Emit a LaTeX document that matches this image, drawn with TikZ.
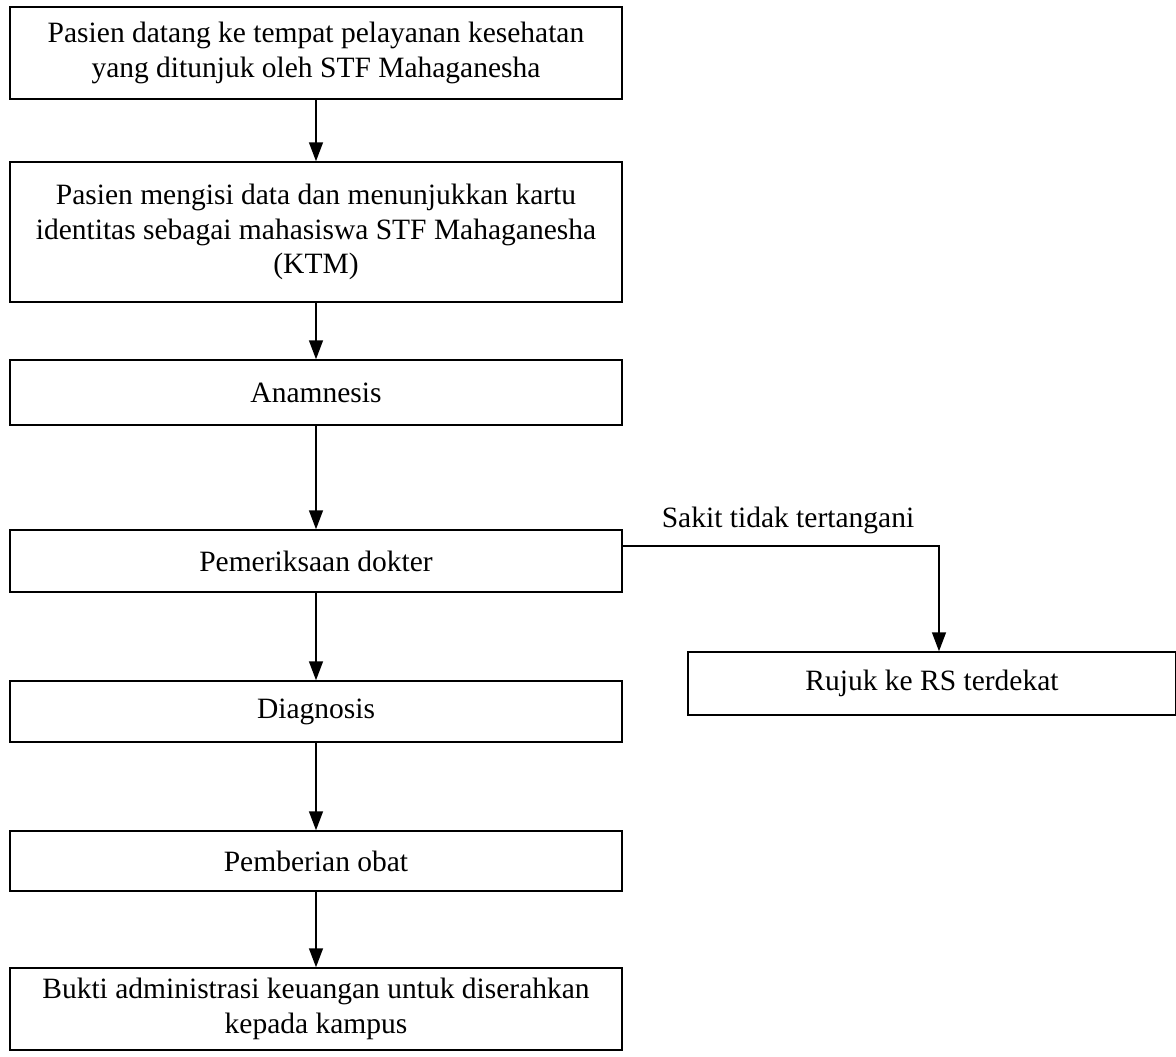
\documentclass[tikz,border=0pt]{standalone}
\usepackage{fontspec}
\setmainfont{Liberation Serif}
\usetikzlibrary{arrows.meta}
\begin{document}
\begin{tikzpicture}[x=1pt,y=-1pt,
  box/.style={draw, line width=1.5pt, inner sep=0pt, align=center,
    minimum width=612pt, font=\fontsize{29.5}{34.5}\selectfont},
  rbox/.style={box, minimum width=488pt},
  lbl/.style={font=\fontsize{29.5}{34.5}\selectfont, inner sep=0pt},
  arr/.style={line width=1.5pt, -{Triangle[width=14pt,length=19pt]}}]
\useasboundingbox (0,0) rectangle (1176,1057);
\node[box, minimum height=92pt] (b1) at (316,53) {Pasien datang ke tempat pelayanan kesehatan\\yang ditunjuk oleh STF Mahaganesha};
\node[box, minimum height=140pt] (b2) at (316,232) {Pasien mengisi data dan menunjukkan kartu\\identitas sebagai mahasiswa STF Mahaganesha\\(KTM)};
\node[box, minimum height=65pt] (b3) at (316,392.5) {Anamnesis};
\node[box, minimum height=62pt] (b4) at (316,561) {Pemeriksaan dokter};
\node[box, minimum height=61pt] (b5) at (316,711.5) {Diagnosis};
\node[box, minimum height=60pt] (b6) at (316,861) {Pemberian obat};
\node[box, minimum height=82pt] (b7) at (316,1009) {Bukti administrasi keuangan untuk diserahkan\\kepada kampus};
\node[rbox, minimum height=63pt] (r) at (932,683.5) {Rujuk ke RS terdekat};
\node[lbl] (l) at (788,520) {Sakit tidak tertangani};
\coordinate (c1) at (939,546);
\draw[arr] (b1) -- (b2);
\draw[arr] (b2) -- (b3);
\draw[arr] (b3) -- (b4);
\draw[arr] (b4) -- (b5);
\draw[arr] (b5) -- (b6);
\draw[arr] (b6) -- (b7);
\draw[arr] (b4.east |- c1) -- (c1) -- (c1 |- r.north);
\end{tikzpicture}
\end{document}
